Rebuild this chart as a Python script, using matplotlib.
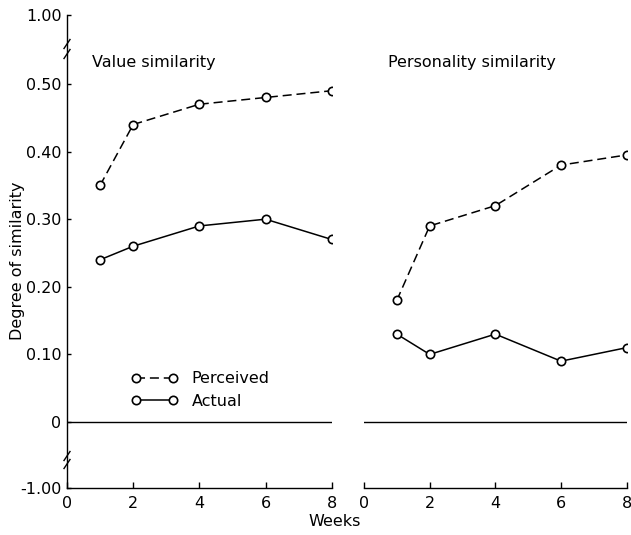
import numpy as np
import matplotlib
matplotlib.use("Agg")
import matplotlib.pyplot as plt
from matplotlib.ticker import FixedLocator, FixedFormatter

# ---- data ----
weeks = [1, 2, 4, 6, 8]
value_perceived = [0.35, 0.44, 0.47, 0.48, 0.49]
value_actual = [0.24, 0.26, 0.29, 0.30, 0.27]
pers_perceived = [0.18, 0.29, 0.32, 0.38, 0.395]
pers_actual = [0.13, 0.10, 0.13, 0.09, 0.11]

ytick_vals = [1.00, 0.50, 0.40, 0.30, 0.20, 0.10, 0.0, -1.00]
ytick_labels = ["1.00", "0.50", "0.40", "0.30", "0.20", "0.10", "0", "-1.00"]
xtick_vals = [0, 2, 4, 6, 8]
panel_titles = ["Value similarity", "Personality similarity"]

plt.rcParams['font.family'] = ['DejaVu Sans']
plt.rcParams['lines.scale_dashes'] = False

# broken-axis scale: compress [-1,0) and (0.55,1]
A_NEG = 0.0976
B_TOP = (0.602 - 0.55) / 0.45

def fwd(y):
    y = np.asarray(y, dtype=float)
    return np.where(y < 0, y * A_NEG, np.where(y <= 0.55, y, 0.55 + (y - 0.55) * B_TOP))

def inv(v):
    v = np.asarray(v, dtype=float)
    return np.where(v < 0, v / A_NEG, np.where(v <= 0.55, v, 0.55 + (v - 0.55) / B_TOP))

W, H = 631, 535
fig = plt.figure(figsize=(W / 100, H / 100), dpi=100)

def rect(x0, x1, ytop, ybot):
    return [x0 / W, 1 - ybot / H, (x1 - x0) / W, (ybot - ytop) / H]

axL = fig.add_axes(rect(67, 331.7, 15, 488))
axR = fig.add_axes(rect(364, 626.7, 15, 488))

FS = 11.5
dash = (0, (6.5, 3.5))
LW = 1.1
for ax, perc, act in [(axL, value_perceived, value_actual),
                      (axR, pers_perceived, pers_actual)]:
    ax.set_yscale('function', functions=(fwd, inv))
    ax.set_ylim(-1.0, 1.0)
    ax.set_xlim(0, 8)
    ax.axhline(0, color='black', lw=1.0, zorder=1)
    ax.plot(weeks, perc, color='black', lw=LW, linestyle=dash, marker='o',
            ms=6, mfc='white', mec='black', mew=1.2, label='Perceived', zorder=3)
    ax.plot(weeks, act, color='black', lw=LW, linestyle='-', marker='o',
            ms=6, mfc='white', mec='black', mew=1.2, label='Actual', zorder=3)
    for s in ['top', 'right']:
        ax.spines[s].set_visible(False)
    ax.spines['bottom'].set_linewidth(1.0)
    ax.spines['left'].set_linewidth(1.0)
    ax.xaxis.set_major_locator(FixedLocator(xtick_vals))
    ax.tick_params(axis='x', direction='in', length=4, width=1.0, pad=6, labelsize=FS)

axL.yaxis.set_major_locator(FixedLocator(ytick_vals))
axL.yaxis.set_major_formatter(FixedFormatter(ytick_labels))
axL.yaxis.set_minor_locator(FixedLocator([]))
axL.tick_params(axis='y', direction='in', length=3, width=1.0, pad=4, labelsize=FS)

axR.spines['left'].set_visible(False)
axR.yaxis.set_major_locator(FixedLocator([]))
axR.yaxis.set_minor_locator(FixedLocator([]))
axR.tick_params(axis='y', left=False, labelleft=False)

# panel titles
fig.text(92 / W, 1 - 62 / H, panel_titles[0], fontsize=FS, ha='left', va='center')
fig.text(388 / W, 1 - 62 / H, panel_titles[1], fontsize=FS, ha='left', va='center')

# axis labels
fig.text(335 / W, 1 - 522 / H, "Weeks", fontsize=FS, ha='center', va='center')
fig.text(18 / W, 1 - 261 / H, "Degree of similarity", fontsize=FS, ha='center',
         va='center', rotation=90)

# legend
leg = axL.legend(loc='upper left', bbox_to_anchor=(0.2, 0.27), frameon=False,
                 fontsize=FS, numpoints=2, handlelength=2.9, handletextpad=0.9,
                 labelspacing=0.45, borderpad=0.2)

# break marks on the left spine
axw, axh = 264.7, 473.0
dx, dy = 3.0 / axw, 4.5 / axh
for yc_px in [44, 54, 456, 464]:
    yc = (488 - yc_px) / axh
    axL.plot([-dx, dx], [yc - dy, yc + dy], transform=axL.transAxes,
             color='black', lw=1.0, clip_on=False, zorder=5)

fig.savefig("out.png", dpi=100)
